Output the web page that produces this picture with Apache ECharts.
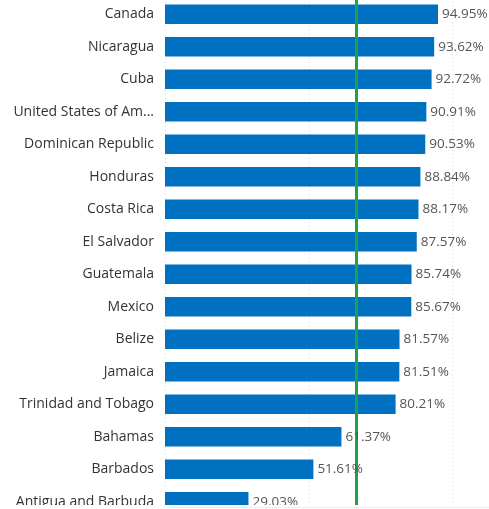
<!DOCTYPE html>
<html>
<head>
<meta charset="utf-8">
<script src="https://cdn.jsdelivr.net/npm/echarts@6/dist/echarts.min.js"></script>
<style>
  html, body { margin: 0; padding: 0; background: #fff; overflow: hidden; }
  #chart { position: absolute; left: 0; top: -2px; width: 489px; height: 540px; }
</style>
</head>
<body>
<div id="chart"></div>
<script>
var countries = ['Canada', 'Nicaragua', 'Cuba', 'United States of America', 'Dominican Republic',
    'Honduras', 'Costa Rica', 'El Salvador', 'Guatemala', 'Mexico', 'Belize', 'Jamaica',
    'Trinidad and Tobago', 'Bahamas', 'Barbados', 'Antigua and Barbuda'];
var rates = [94.95, 93.62, 92.72, 90.91, 90.53, 88.84, 88.17, 87.57, 85.74, 85.67,
    81.57, 81.51, 80.21, 61.37, 51.61, 29.03];
var xTicks = [0, 50, 100];
var refLine = 66.67;

var barColor  = '#0070C0';
var lineColor = '#1FA04A';
var fontName  = 'Open Sans';

const myChart = echarts.init(document.getElementById('chart'));

option = {
    animation: false,
    backgroundColor: '#fff',
    grid: {
        left   : 165,
        top    : 0,
        width  : 287.5,
        height : 520
    },
    xAxis: {
        type      : 'value',
        min       : xTicks[0],
        max       : xTicks[xTicks.length - 1],
        interval  : xTicks[1] - xTicks[0],
        axisLine  : {show: false},
        axisTick  : {show: false},
        axisLabel : {show: false},
        splitLine : {
            show: true,
            lineStyle: {color: '#d6d6d6', type: [1, 3], width: 1}
        }
    },
    yAxis: {
        type      : 'category',
        data      : countries,
        inverse   : true,
        axisLine  : {show: false},
        axisTick  : {show: false},
        axisLabel : {
            margin     : 11,
            width      : 146,
            overflow   : 'truncate',
            ellipsis   : '...',
            padding    : [5, 0, 0, 0],
            fontFamily : fontName,
            fontSize   : 14,
            color      : '#333'
        }
    },
    // white strip at the bottom where the scrolled list is cut off
    graphic: [
        {
            type   : 'rect',
            zlevel : 1,
            z      : 100,
            shape  : {x: 0, y: 507, width: 489, height: 40},
            style  : {fill: '#fff'}
        },
        {
            type   : 'line',
            zlevel : 1,
            z      : 101,
            shape  : {x1: 170, y1: 509.5, x2: 489, y2: 509.5},
            style  : {stroke: '#ececec', lineWidth: 1}
        }
    ],
    series: [
        {
            name           : 'rate',
            type           : 'bar',
            data           : rates,
            barCategoryGap : '40%',
            itemStyle      : {color: barColor},
            markLine : {
                silent    : true,
                symbol    : ['none', 'none'],
                label     : {show: false},
                lineStyle : {color: lineColor, width: 3, type: 'solid'},
                data      : [{xAxis: refLine}]
            }
        },
        {
            // same values again, on an upper layer, so the labels sit above the target line
            name           : 'labels',
            type           : 'bar',
            data           : rates,
            zlevel         : 1,
            barGap         : '-100%',
            barCategoryGap : '40%',
            itemStyle      : {color: 'rgba(0,0,0,0)'},
            label : {
                show       : true,
                position   : 'right',
                distance   : 4,
                padding    : [5, 0, 0, 0],
                fontFamily : fontName,
                fontSize   : 13.5,
                color      : '#555',
                formatter  : function (p) { return p.value.toFixed(2) + '%'; }
            }
        }
    ]
};

myChart.setOption(option, true);
</script>
</body>
</html>
